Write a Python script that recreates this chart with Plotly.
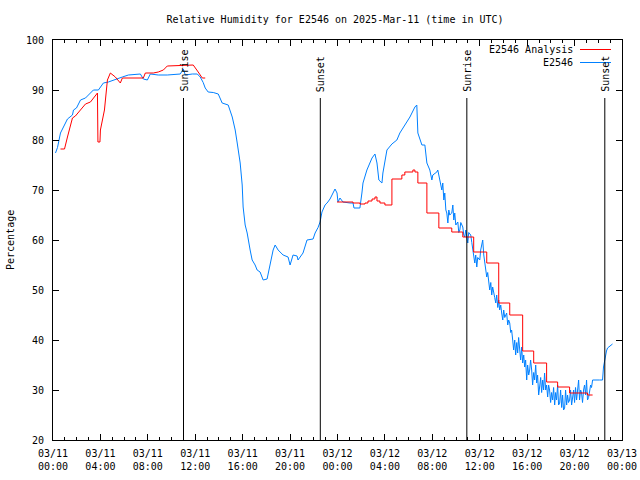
import pandas as pd
import plotly.graph_objects as go

START = pd.Timestamp("2025-03-11 00:00")

# Observed relative humidity (hours since 2025-03-11 00:00 UTC, %)
obs_hours = [0.21, 0.38, 0.63, 0.88, 1.22, 1.64, 1.73, 1.98, 2.32, 2.74, 3.16, 3.41, 3.83, 4.25, 4.67,
             5.09, 5.43, 5.85, 6.36, 6.95, 7.37, 7.62, 7.96, 8.21, 8.88, 9.64, 10.32, 10.74, 10.99, 11.16,
             11.75, 12.17, 12.42, 12.67, 12.84, 13.09, 13.52, 13.94, 14.27, 14.78, 15.12, 15.37, 15.54,
             15.79, 15.96, 16.04, 16.21, 16.38, 16.63, 16.80, 17.05, 17.22, 17.47, 17.73, 18.06, 18.32,
             18.57, 18.74, 18.99, 19.41, 19.83, 20.00, 20.25, 20.59, 20.67, 21.09, 21.43, 21.94, 22.11,
             22.36, 22.53, 22.69, 22.95, 23.12, 23.37, 23.62, 23.79, 23.96, 24.04, 24.21, 24.46, 25.05,
             25.31, 25.39, 25.89, 26.06, 26.15, 26.48, 26.91, 27.16, 27.33, 27.49, 27.75, 27.83, 28.17,
             28.59, 29.01, 29.26, 29.68, 30.11, 30.53, 30.69, 30.78, 31.12, 31.37, 31.54, 31.79, 31.96,
             32.04, 32.38, 32.46, 32.63,
             32.80, 32.88, 32.97, 33.05, 33.14, 33.22, 33.31, 33.39, 33.47, 33.64, 33.73, 33.81, 33.89,
             33.98, 34.15, 34.23, 34.32, 34.40, 34.57, 34.65, 34.74, 34.82, 34.91, 34.99, 35.07, 35.24,
             35.33, 35.41, 35.49, 35.58, 35.66, 35.75, 35.83, 36.00, 36.08, 36.17, 36.25, 36.34, 36.42,
             36.51, 36.59, 36.67, 36.76, 36.84, 36.93, 37.01, 37.09, 37.18, 37.26, 37.35, 37.43, 37.52,
             37.60, 37.68, 37.77, 37.85, 37.94, 38.02, 38.11, 38.27, 38.36, 38.44, 38.53, 38.61, 38.69,
             38.78, 38.86, 38.95, 39.03, 39.12, 39.20, 39.28, 39.37, 39.45, 39.54, 39.62, 39.71, 39.79,
             39.87, 39.96, 40.04, 40.13, 40.21, 40.29, 40.38, 40.46, 40.55, 40.63, 40.72, 40.80, 40.88,
             40.97, 41.05, 41.14, 41.22, 41.31, 41.39, 41.47, 41.56, 41.64, 41.73, 41.81, 41.89, 41.98,
             42.06, 42.15, 42.23, 42.32, 42.40, 42.48, 42.57, 42.65, 42.74, 42.82, 42.91, 42.99, 43.07,
             43.16, 43.24, 43.33, 43.41, 43.49, 43.58, 43.66, 43.75, 43.83, 43.92, 44.00, 44.08, 44.17,
             44.25, 44.34, 44.42, 44.51, 44.59, 44.67, 44.76, 44.84, 44.93, 45.01, 45.09, 45.18, 45.26,
             45.35, 45.43, 45.52, 46.11, 46.36, 46.44, 46.53, 46.61, 46.69, 46.78, 47.20]
obs_values = [77.4, 78.5, 81.4, 82.5, 84.2, 85.0, 86.0, 86.4, 88.0, 88.4, 89.4, 90.0, 90.0, 91.4, 91.6,
              92.0, 92.2, 92.6, 93.0, 93.2, 93.2, 92.2, 92.0, 93.2, 93.0, 93.0, 93.2, 93.2, 94.2, 93.0,
              93.2, 93.2, 92.6, 91.5, 90.4, 89.6, 89.5, 89.2, 87.4, 87.0, 84.6, 82.0, 79.4,
              75.4, 71.0, 66.6, 63.0, 61.4, 58.0, 56.0, 55.0, 54.0, 53.6, 52.0, 52.2, 55.4,
              58.0, 59.0, 58.0, 57.0, 56.6, 55.0, 57.0, 56.8, 56.0, 57.4, 60.0, 60.2, 61.4,
              62.5, 63.6, 65.6, 67.0, 67.4, 68.2, 69.4, 70.2, 69.4, 67.6, 68.4, 67.6, 67.4,
              67.4, 66.4, 66.4, 69.4, 71.4, 74.0, 76.4, 77.2, 75.4, 72.0, 71.4, 73.4, 78.0,
              79.2, 80.0, 81.4, 83.0, 84.6, 86.6, 87.0, 81.4, 79.0, 79.0, 75.4, 74.0, 72.0,
              73.0, 73.6, 74.0, 72.0,
              70.0, 71.4, 68.0, 69.4, 66.0, 65.4, 63.4, 66.0, 65.0, 65.4, 67.0, 64.0, 65.4,
              63.0, 63.6, 61.5, 62.0, 63.5, 62.6, 61.0, 60.6, 62.0, 61.0, 59.4, 61.5, 61.0,
              59.5, 58.0, 56.0, 55.4, 57.0, 54.6, 56.5, 56.0, 58.0, 59.0, 60.0, 57.0, 55.4,
              54.0, 52.6, 53.5, 51.0, 50.0, 51.5, 49.0, 50.6, 49.0, 48.5, 47.4, 49.0, 46.5,
              48.0, 46.0, 47.0, 45.4, 44.0, 46.0, 44.5, 45.4, 43.0, 44.0, 43.4, 41.5, 42.0,
              40.0, 38.0, 40.0, 37.0, 39.5, 37.4, 40.5, 38.6, 36.0, 38.6, 35.4, 37.0, 34.6,
              36.0, 32.0, 35.0, 33.0, 34.0, 36.0, 34.0, 31.0, 33.5, 32.0, 35.0, 31.4, 33.0,
              29.0, 30.6, 32.5, 29.5, 32.0, 30.0, 33.4, 30.0, 31.0, 28.6, 31.0, 30.0, 27.5,
              29.5, 28.0, 30.5, 27.0, 29.5, 28.0, 31.0, 27.0, 27.4, 30.0, 26.5, 29.0, 26.0,
              26.4, 30.0, 27.0, 29.0, 27.5, 28.0, 30.0, 27.0, 28.6, 30.0, 27.5, 30.5, 28.0,
              30.6, 32.0, 28.0, 30.0, 29.4, 27.5, 30.0, 31.0, 29.0, 32.0, 28.0, 28.5, 29.6,
              31.0, 30.5, 32.0, 32.0, 32.0, 34.6, 36.0, 37.4, 37.8, 38.4, 39.2]

# Analysis relative humidity, first day (linear segments)
ana1_hours = [0.63, 0.97, 1.22, 1.64, 1.89, 2.32, 2.74, 3.16, 3.75, 3.79, 3.96, 4.00, 4.34, 4.59, 4.84,
              5.26, 5.68, 5.85, 6.53, 7.62, 7.79, 8.46, 8.88, 9.31, 9.64, 11.83, 12.25, 12.59, 12.84]
ana1_values = [78.2, 78.2, 80.6, 84.4, 84.8, 86.0, 87.2, 87.6, 89.4, 79.6, 79.6, 82.0, 86.0, 92.0, 93.4,
               92.6, 91.4, 92.4, 92.4, 92.4, 93.4, 93.4, 93.6, 94.0, 94.8, 95.0, 93.6, 92.4, 92.4]

# Analysis relative humidity, second day (stepped)
ana2_hours = [23.96, 25.31, 25.89, 26.32, 26.57, 26.91, 27.16, 27.33, 27.58, 28.00, 28.59, 29.43, 29.68,
              30.36, 30.53, 30.78, 31.54, 32.55, 33.64, 34.57, 35.49, 36.59, 37.60, 38.53, 39.62, 40.55,
              41.64, 42.57, 43.58, 45.09, 45.52]
ana2_values = [67.6, 67.4, 67.2, 67.4, 67.8, 68.2, 68.6, 67.8, 67.4, 67.0, 72.2, 73.0, 73.6,
               74.0, 73.6, 71.4, 65.4, 62.4, 61.6, 60.6, 57.6, 55.4, 47.4, 45.0, 37.8, 35.4,
               31.6, 30.6, 29.4, 29.0, 29.0]

# Sun events (hours since start)
event_hours = [11.01, 22.55, 34.91, 46.55]
event_labels = ["Sunrise", "Sunset", "Sunrise", "Sunset"]

title_text = "Relative Humidity for E2546 on 2025-Mar-11 (time in UTC)"
y_title = "Percentage"
legend_labels = ["E2546 Analysis", "E2546"]
series_colors = ["#ff0000", "#0080ff"]


def to_time(hours):
    return [START + pd.Timedelta(hours=h) for h in hours]


FONT = "DejaVu Sans Mono"

fig = go.Figure()
fig.add_trace(go.Scatter(x=to_time(obs_hours), y=obs_values, mode="lines",
                         line=dict(color=series_colors[1], width=1), showlegend=False))
fig.add_trace(go.Scatter(x=to_time(ana1_hours), y=ana1_values, mode="lines",
                         line=dict(color=series_colors[0], width=1), showlegend=False))
fig.add_trace(go.Scatter(x=to_time(ana2_hours), y=ana2_values, mode="lines",
                         line=dict(color=series_colors[0], width=1, shape="hv"), showlegend=False))

# Sun event lines and labels
for h, lab in zip(event_hours, event_labels):
    t = START + pd.Timedelta(hours=h)
    fig.add_shape(type="line", xref="x", yref="y", x0=t, x1=t, y0=20, y1=88.4,
                  line=dict(color="black", width=1))
    fig.add_annotation(x=t, y=89.4, xref="x", yref="y", text=lab, textangle=-90,
                       showarrow=False, xanchor="center", yanchor="bottom",
                       font=dict(family=FONT, size=10, color="black"), borderpad=0)

# Manual legend (text right-aligned, sample line on the right)
L, W, T, H = 53, 569, 40, 400
def px(x):
    return (x - L) / W
def py(y):
    return (T + H - y) / H

for i, (lab, col) in enumerate(zip(legend_labels, series_colors)):
    yy = 49.5 + 13 * i
    fig.add_annotation(x=px(574), y=py(yy), xref="paper", yref="paper", text=lab,
                       showarrow=False, xanchor="right", yanchor="middle",
                       font=dict(family=FONT, size=10, color="black"), borderpad=0)
    fig.add_shape(type="line", xref="paper", yref="paper", x0=px(580), x1=px(611),
                  y0=py(yy), y1=py(yy), line=dict(color=col, width=1))

fig.add_annotation(x=px(10), y=0.5, xref="paper", yref="paper", text=y_title, textangle=-90,
                   showarrow=False, xanchor="center", yanchor="middle",
                   font=dict(family=FONT, size=10, color="black"))

fig.update_layout(
    width=640, height=480,
    margin=dict(l=L, r=640 - L - W, t=T, b=480 - T - H),
    paper_bgcolor="white", plot_bgcolor="white",
    font=dict(family=FONT, size=10, color="black"),
    title=dict(text=title_text, x=335 / 640, xanchor="center", y=1 - 19 / 480, yanchor="middle",
               font=dict(family=FONT, size=10, color="black")),
    showlegend=False,
)
fig.update_xaxes(
    type="date",
    range=[START, START + pd.Timedelta(hours=48)],
    tick0=START, dtick=4 * 3600 * 1000, tickformat="%m/%d<br>%H:%M",
    ticks="inside", ticklen=6, tickcolor="black",
    minor=dict(dtick=3600 * 1000, ticks="inside", ticklen=3, tickcolor="black"),
    showline=True, linecolor="black", linewidth=1, mirror="allticks",
    showgrid=False, zeroline=False, automargin=False, ticklabelstandoff=4,
    tickfont=dict(family=FONT, size=10, color="black"),
)
fig.update_yaxes(
    range=[20, 100], dtick=10, tick0=20,
    ticks="inside", ticklen=6, tickcolor="black",
    showline=True, linecolor="black", linewidth=1, mirror="allticks",
    showgrid=False, zeroline=False, ticklabelstandoff=6, automargin=False,
    tickfont=dict(family=FONT, size=10, color="black"),
)

fig.write_html("out.html", config={"displayModeBar": False},
               post_script="document.body.style.margin='0';")
